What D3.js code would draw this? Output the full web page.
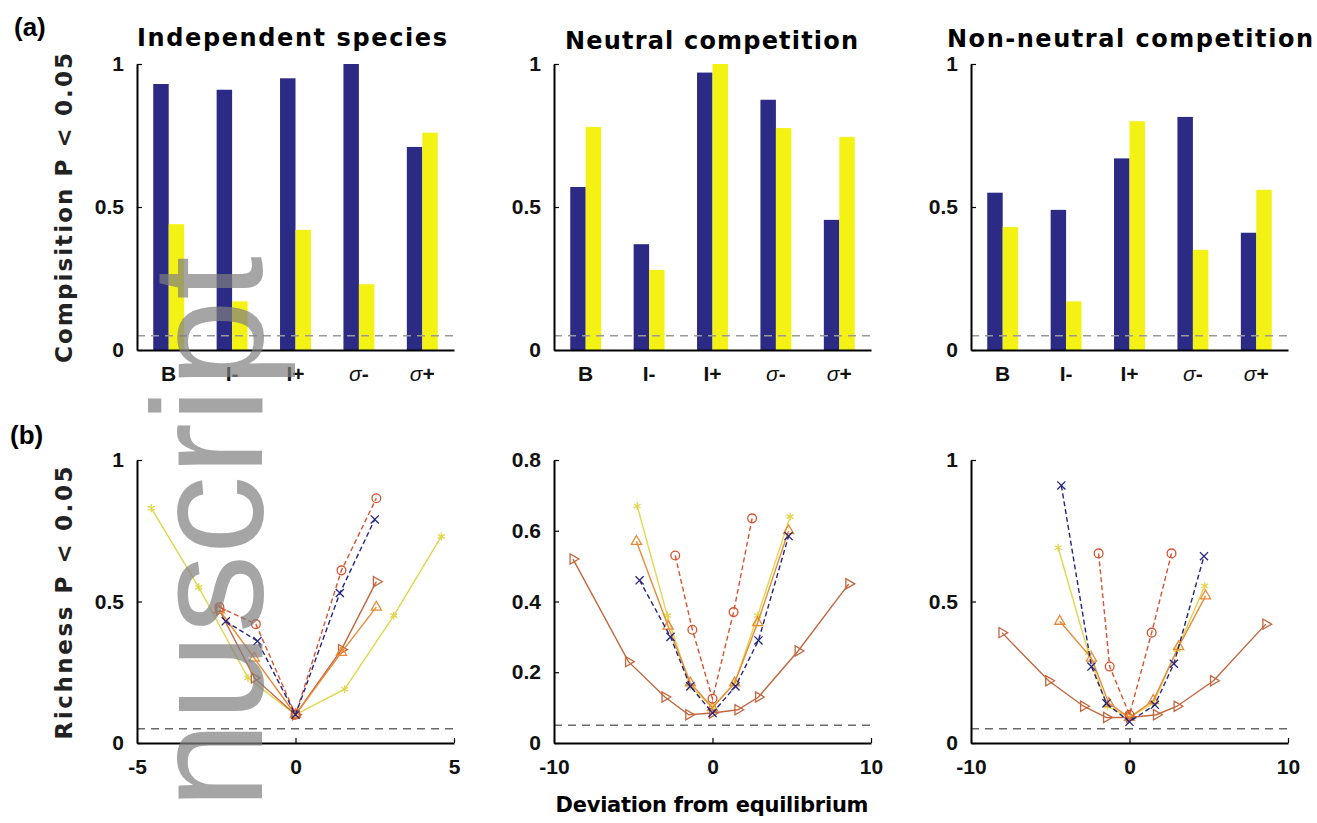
<!DOCTYPE html>
<html>
<head>
    <meta charset="UTF-8">
    <title>Composition and richness P &lt; 0.05</title>
    <style>
        body { margin: 0; background: #fff; }
        svg { display: block; }
        text { font-family: "Liberation Sans", Arial, sans-serif; }
        .wide { font-family: "DejaVu Sans", "Liberation Sans", sans-serif; font-weight: bold; }
    </style>
</head>
<body>
    <svg width="1317" height="823"></svg>
    <script src="https://cdn.jsdelivr.net/npm/d3@7"></script>
    <script>
        // ---- data ----
        const cats = ["B", "I-", "I+", "σ-", "σ+"];
        const titles = ["Independent species", "Neutral competition", "Non-neutral competition"];

        // (a) composition, one array per panel
        const compBlue = [
            [0.93, 0.91, 0.95, 1.00, 0.71],
            [0.57, 0.37, 0.97, 0.875, 0.455],
            [0.55, 0.49, 0.67, 0.815, 0.41]
        ];
        const compYellow = [
            [0.44, 0.17, 0.42, 0.23, 0.76],
            [0.78, 0.28, 1.00, 0.776, 0.745],
            [0.43, 0.17, 0.80, 0.35, 0.56]
        ];
        const compTicks = [0, 0.5, 1];

        // (b) richness: series order blue(x), red(o), orange(^), brown(>), yellow(*)
        const richIndepX = [
            [-2.2, -1.2, 0, 1.4, 2.5],
            [-2.4, -1.25, 0, 1.45, 2.55],
            [-2.4, -1.3, 0, 1.45, 2.55],
            [-2.4, -1.3, 0, 1.45, 2.55],
            [-4.55, -3.05, -1.5, 0, 1.55, 3.1, 4.6]
        ];
        const richIndepY = [
            [0.43, 0.36, 0.10, 0.53, 0.79],
            [0.48, 0.42, 0.10, 0.61, 0.865],
            [0.47, 0.30, 0.10, 0.32, 0.48],
            [0.47, 0.23, 0.10, 0.33, 0.57],
            [0.83, 0.55, 0.23, 0.10, 0.19, 0.45, 0.73]
        ];
        const richNeutralX = [
            [-4.6, -2.65, -1.4, 0, 1.45, 2.9, 4.8],
            [-2.35, -1.27, 0, 1.33, 2.5],
            [-4.8, -2.8, -1.4, 0, 1.4, 2.85, 4.8],
            [-8.8, -5.3, -3.0, -1.5, 0, 1.6, 2.9, 5.4, 8.6],
            [-4.75, -2.85, -1.4, 0, 1.4, 2.85, 4.9]
        ];
        const richNeutralY = [
            [0.46, 0.30, 0.16, 0.085, 0.16, 0.29, 0.585],
            [0.53, 0.32, 0.125, 0.37, 0.635],
            [0.57, 0.33, 0.17, 0.10, 0.17, 0.34, 0.60],
            [0.52, 0.23, 0.13, 0.08, 0.085, 0.094, 0.13, 0.26, 0.45],
            [0.67, 0.36, 0.16, 0.10, 0.17, 0.36, 0.64]
        ];
        const richNonNeutralX = [
            [-4.3, -2.4, -1.45, 0, 1.6, 2.8, 4.7],
            [-1.95, -1.25, 0, 1.4, 2.65],
            [-4.4, -2.4, -1.3, 0, 1.5, 3.1, 4.8],
            [-8.05, -5.1, -2.9, -1.45, 0, 1.7, 3.0, 5.3, 8.6],
            [-4.5, -2.6, -1.4, 0, 1.5, 3.0, 4.75]
        ];
        const richNonNeutralY = [
            [0.91, 0.27, 0.14, 0.075, 0.135, 0.28, 0.66],
            [0.67, 0.27, 0.10, 0.39, 0.67],
            [0.43, 0.30, 0.14, 0.09, 0.15, 0.34, 0.52],
            [0.39, 0.22, 0.13, 0.09, 0.09, 0.10, 0.13, 0.22, 0.42],
            [0.69, 0.32, 0.13, 0.09, 0.14, 0.33, 0.555]
        ];
        const richX = [richIndepX, richNeutralX, richNonNeutralX];
        const richY = [richIndepY, richNeutralY, richNonNeutralY];
        const richXDomains = [[-5, 5], [-10, 10], [-10, 10]];
        const richXTicks = [[-5, 0, 5], [-10, 0, 10], [-10, 0, 10]];
        const richYDomains = [[0, 1], [0, 0.8], [0, 1]];
        const richYTicks = [[0, 0.5, 1], [0, 0.2, 0.4, 0.6, 0.8], [0, 0.5, 1]];
        const threshold = 0.05;

        // ---- layout / style ----
        const svg = d3.select("svg");
        const panelX = [[137, 454], [554, 871], [971, 1288]];
        const topY = [350, 64];
        const botY = [743, 460];
        const blueCol = "#2b2a84", yellowCol = "#f4f214";
        const seriesColor = ["#25257f", "#d8532f", "#e88a35", "#c2673f", "#e2d64e"];
        const seriesDash = ["5,3", "5,3", null, null, null];
        const seriesSymbol = [d3.symbolTimes || d3.symbolCross, d3.symbolCircle, d3.symbolTriangle, d3.symbolTriangle, d3.symbolAsterisk || d3.symbolStar];
        const fmt = d => String(d);

        function styleAxis(g) {
            g.select(".domain").attr("stroke", "#000").attr("stroke-width", 2);
            g.selectAll(".tick line").attr("stroke", "#000").attr("stroke-width", 1.2);
            g.selectAll("text").attr("font-size", 21).attr("font-weight", "bold").attr("fill", "#111");
        }

        // ---- (a) bars ----
        titles.forEach((title, i) => {
            const x = d3.scaleBand().domain(cats).range(panelX[i]);
            const xs = d3.scaleBand().domain(["b", "y"]).range([0, x.bandwidth()]).paddingOuter(1.05);
            const y = d3.scaleLinear().domain([0, 1]).range(topY);
            const g = svg.append("g");

            g.selectAll(".bar-b").data(compBlue[i]).enter().append("rect")
                .attr("x", (d, j) => x(cats[j]) + xs("b"))
                .attr("y", d => y(d))
                .attr("width", xs.bandwidth())
                .attr("height", d => y(0) - y(d))
                .attr("fill", blueCol);
            g.selectAll(".bar-y").data(compYellow[i]).enter().append("rect")
                .attr("x", (d, j) => x(cats[j]) + xs("y"))
                .attr("y", d => y(d))
                .attr("width", xs.bandwidth())
                .attr("height", d => y(0) - y(d))
                .attr("fill", yellowCol);

            g.append("line")
                .attr("x1", panelX[i][0]).attr("x2", panelX[i][1])
                .attr("y1", y(threshold)).attr("y2", y(threshold))
                .attr("stroke", "#9a9a9a").attr("stroke-width", 1.5).attr("stroke-dasharray", "8,6");

            const ax = g.append("g").attr("transform", `translate(0,${topY[0]})`)
                .call(d3.axisBottom(x).tickSize(0).tickPadding(16));
            styleAxis(ax);
            ax.selectAll("text").each(function (d) {
                if (d[0] === "σ") {
                    const t = d3.select(this).text("");
                    t.append("tspan").attr("font-style", "italic").attr("font-weight", "normal").text("σ");
                    t.append("tspan").text(d.slice(1));
                }
            });
            const ay = g.append("g").attr("transform", `translate(${panelX[i][0]},0)`)
                .call(d3.axisLeft(y).tickValues(compTicks).tickFormat(fmt).tickSizeInner(-5).tickSizeOuter(0).tickPadding(13));
            styleAxis(ay);

            const tx = [137, 565, 947][i], tl = [310, 293, 366][i], ty = [46, 49, 47][i];
            svg.append("text").attr("class", "wide").attr("x", tx).attr("y", ty)
                .attr("font-size", 24)
                .attr("textLength", tl).attr("lengthAdjust", "spacing")
                .text(title);
        });

        // ---- (b) richness lines ----
        richX.forEach((panel, i) => {
            const x = d3.scaleLinear().domain(richXDomains[i]).range(panelX[i]);
            const y = d3.scaleLinear().domain(richYDomains[i]).range(botY);
            const g = svg.append("g");

            g.append("line")
                .attr("x1", panelX[i][0]).attr("x2", panelX[i][1])
                .attr("y1", y(threshold)).attr("y2", y(threshold))
                .attr("stroke", "#6a6a6a").attr("stroke-width", 1.5).attr("stroke-dasharray", "8,6");

            // yellow first so the darker series sit on top
            const order = [4, 3, 2, 1, 0];
            order.forEach(s => {
                const pts = panel[s].map((v, k) => [v, richY[i][s][k]]);
                const line = d3.line().x(d => x(d[0])).y(d => y(d[1]));
                g.append("path").datum(pts)
                    .attr("d", line)
                    .attr("fill", "none")
                    .attr("stroke", seriesColor[s])
                    .attr("stroke-width", 1.4)
                    .attr("stroke-dasharray", seriesDash[s]);
                const rot = s === 3 ? 90 : 0;
                g.selectAll(null).data(pts).enter().append("path")
                    .attr("transform", d => `translate(${x(d[0])},${y(d[1])}) rotate(${rot})`)
                    .attr("d", d3.symbol().type(seriesSymbol[s]).size(s === 1 ? 60 : 45))
                    .attr("fill", "none")
                    .attr("stroke", seriesColor[s])
                    .attr("stroke-width", 1.3);
            });

            const ax = g.append("g").attr("transform", `translate(0,${botY[0]})`)
                .call(d3.axisBottom(x).tickValues(richXTicks[i]).tickFormat(fmt).tickSizeInner(-5).tickSizeOuter(0).tickPadding(16));
            styleAxis(ax);
            const ay = g.append("g").attr("transform", `translate(${panelX[i][0]},0)`)
                .call(d3.axisLeft(y).tickValues(richYTicks[i]).tickFormat(fmt).tickSizeInner(-5).tickSizeOuter(0).tickPadding(13));
            styleAxis(ay);
        });

        // ---- labels ----
        svg.append("text").attr("x", 14).attr("y", 36)
            .attr("font-size", 26).attr("font-weight", "bold").text("(a)");
        svg.append("text").attr("x", 10).attr("y", 444)
            .attr("font-size", 26).attr("font-weight", "bold").text("(b)");

        svg.append("text").attr("class", "wide")
            .attr("transform", "translate(72,208) rotate(-90)")
            .attr("text-anchor", "middle")
            .attr("font-size", 23).attr("fill", "#222")
            .attr("textLength", 310).attr("lengthAdjust", "spacing")
            .text("Compisition P < 0.05");
        svg.append("text").attr("class", "wide")
            .attr("transform", "translate(72,603) rotate(-90)")
            .attr("text-anchor", "middle")
            .attr("font-size", 23).attr("fill", "#222")
            .attr("textLength", 273).attr("lengthAdjust", "spacing")
            .text("Richness P < 0.05");
        svg.append("text").attr("class", "wide")
            .attr("x", 712).attr("y", 812)
            .attr("text-anchor", "middle")
            .attr("font-size", 21)
            .attr("textLength", 313).attr("lengthAdjust", "spacing")
            .text("Deviation from equilibrium");

        // watermark running up the left side
        svg.append("text")
            .attr("transform", "translate(262,256) rotate(-90)")
            .attr("text-anchor", "end")
            .attr("font-size", 158)
            .attr("fill", "#808080")
            .attr("opacity", 0.7)
            .text("nuscript");
    </script>
</body>
</html>
